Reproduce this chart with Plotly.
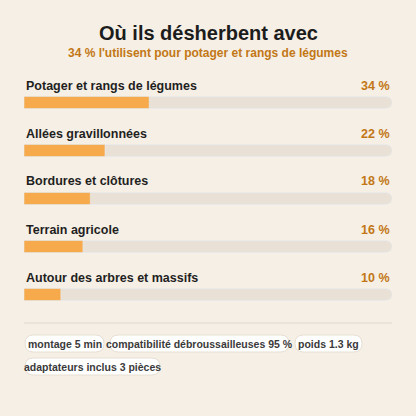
import plotly.graph_objects as go

categories = ["Potager et rangs de légumes", "Allées gravillonnées", "Bordures et clôtures",
              "Terrain agricole", "Autour des arbres et massifs"]
values = [34, 22, 18, 16, 10]
chips = [["montage 5 min", "compatibilité débroussailleuses 95 %", "poids 1.3 kg"],
         ["adaptateurs inclus 3 pièces"]]

W = H = 416
BG = "#f6efe5"; TRACK = "#e9e1d5"; BAR = "#f6aa4c"; ACC = "#c27716"
ys = [102.5 + 48 * i for i in range(len(categories))]

fig = go.Figure()
fig.add_trace(go.Bar(x=[100] * len(values), y=ys, orientation="h", width=12,
                     marker=dict(color=TRACK, cornerradius=6), hoverinfo="skip"))
fig.add_trace(go.Bar(x=values, y=ys, orientation="h", width=12,
                     marker=dict(color=BAR, cornerradius=6)))

def px(x): return x / W
def py(y): return 1 - y / H

def A(text, x, y, size, color, xanchor="center"):
    return dict(text=text, x=px(x), y=py(y), xref="paper", yref="paper", xanchor=xanchor,
                yanchor="middle", showarrow=False, font=dict(size=size, color=color))

ann = [A("<b>Où ils désherbent avec</b>", 208, 33, 20, "#1c1c1c"),
       A("<b>34 % l'utilisent pour potager et rangs de légumes</b>", 208, 53, 12, ACC)]
for c, v, y in zip(categories, values, ys):
    ann.append(A(f"<b>{c}</b>", 24, y - 17, 12.5, "#1f1f1f", "left"))
    ann.append(A(f"<b>{v} %</b>", 392, y - 17, 12.5, ACC, "right"))

shapes = [dict(type="line", xref="paper", yref="paper", x0=px(24), x1=px(392),
               y0=py(323), y1=py(323), line=dict(color="#e2d9cc", width=1))]

def rrect(x0, y0, x1, y1, r):
    X = px; Y = py
    return (f"M{X(x0+r)},{Y(y0)} L{X(x1-r)},{Y(y0)} Q{X(x1)},{Y(y0)} {X(x1)},{Y(y0+r)} "
            f"L{X(x1)},{Y(y1-r)} Q{X(x1)},{Y(y1)} {X(x1-r)},{Y(y1)} L{X(x0+r)},{Y(y1)} "
            f"Q{X(x0)},{Y(y1)} {X(x0)},{Y(y1-r)} L{X(x0)},{Y(y0+r)} Q{X(x0)},{Y(y0)} {X(x0+r)},{Y(y0)} Z")

chip_x = [[25, 110, 295], [25]]
chip_w = [[79, 179, 67], [135]]
chip_y = [335, 358]
for row, xs, ws, y0 in zip(chips, chip_x, chip_w, chip_y):
    for t, x0, w in zip(row, xs, ws):
        shapes.append(dict(type="path", xref="paper", yref="paper", path=rrect(x0, y0, x0 + w, y0 + 17, 8.5),
                           fillcolor="white", line=dict(color="#e6ded2", width=1), layer="below"))
        ann.append(A(f"<b>{t}</b>", x0 + w / 2, y0 + 8.5, 10.5, "#3a3a3a"))

fig.update_layout(width=W, height=H, margin=dict(l=0, r=0, t=0, b=0), paper_bgcolor=BG,
                  plot_bgcolor="rgba(0,0,0,0)", showlegend=False, barmode="overlay",
                  font=dict(family="Liberation Sans, Arial, sans-serif"),
                  xaxis=dict(range=[0, 100], domain=[24 / W, 392 / W], visible=False, fixedrange=True),
                  yaxis=dict(range=[H, 0], domain=[0, 1], visible=False, fixedrange=True),
                  annotations=ann, shapes=shapes)
fig.write_html("out.html", config={"displayModeBar": False},
               post_script="document.body.style.margin='0';document.body.style.overflow='hidden';")
